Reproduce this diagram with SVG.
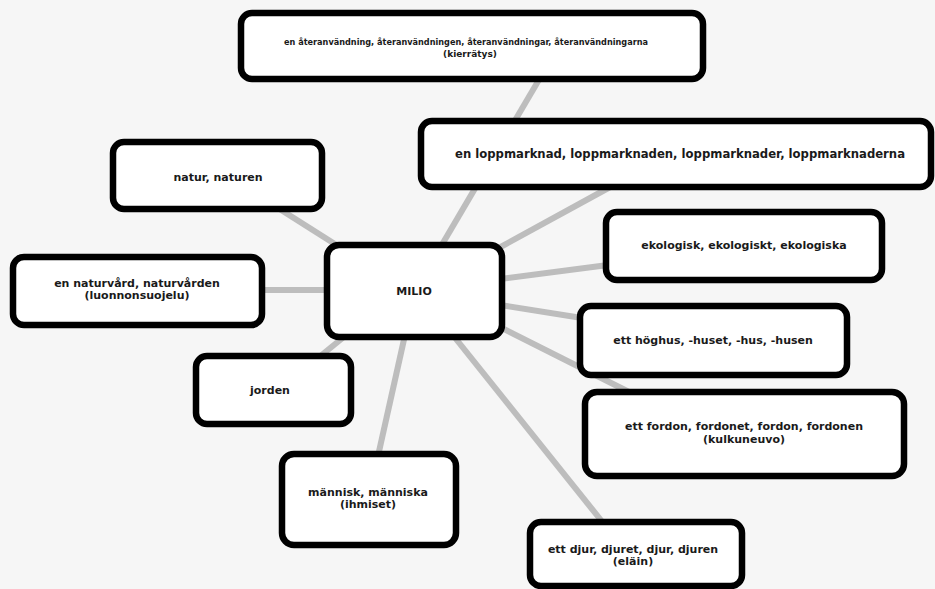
<svg xmlns="http://www.w3.org/2000/svg" width="935" height="589" viewBox="0 0 935 589">
<style>
.bg{fill:#f6f6f6}
.box{fill:#ffffff;stroke:#000;stroke-width:6.5}
.con line{stroke:#bdbdbd;stroke-width:6;stroke-linecap:butt}
text{font-family:"DejaVu Sans","Liberation Sans",Arial,sans-serif;font-weight:bold;font-size:11px;fill:#1a1a1a;text-anchor:middle}
</style>
<rect class="bg" x="0" y="0" width="935" height="589"/>
<g id="connectors" class="con">
<line x1="540" y1="78" x2="440" y2="248"/>
<line x1="612" y1="186" x2="495" y2="250"/>
<line x1="608" y1="265" x2="500" y2="279"/>
<line x1="500" y1="305" x2="582" y2="318"/>
<line x1="500" y1="327" x2="635" y2="395"/>
<line x1="452" y1="334" x2="604" y2="524"/>
<line x1="405" y1="335" x2="378" y2="456"/>
<line x1="345" y1="336" x2="318" y2="358"/>
<line x1="260" y1="290" x2="329" y2="290"/>
<line x1="278" y1="208" x2="338" y2="246"/>
</g>
<g id="n-top"><rect class="box" x="241" y="13" width="462" height="66" rx="11"/><text x="466" y="45" style="font-size:9px" textLength="364" lengthAdjust="spacingAndGlyphs">en återanvändning, återanvändningen, återanvändningar, återanvändningarna</text><text x="470" y="57" style="font-size:9px">(kierrätys)</text></g>
<g id="n-lopp"><rect class="box" x="421" y="121" width="510" height="66" rx="11"/><text x="680" y="158" style="font-size:12px" textLength="450" lengthAdjust="spacingAndGlyphs">en loppmarknad, loppmarknaden, loppmarknader, loppmarknaderna</text></g>
<g id="n-natur"><rect class="box" x="113" y="142" width="209" height="67" rx="11"/><text x="218" y="181">natur, naturen</text></g>
<g id="n-naturvard"><rect class="box" x="13" y="257" width="249" height="68" rx="11"/><text x="137" y="287">en naturvård, naturvården</text><text x="137" y="299">(luonnonsuojelu)</text></g>
<g id="n-milio"><rect class="box" x="327" y="245" width="175" height="92" rx="12"/><text x="414" y="295">MILIO</text></g>
<g id="n-eko"><rect class="box" x="606" y="212" width="276" height="68" rx="11"/><text x="744" y="249">ekologisk, ekologiskt, ekologiska</text></g>
<g id="n-hoghus"><rect class="box" x="580" y="306" width="267" height="69" rx="11"/><text x="713" y="344">ett höghus, -huset, -hus, -husen</text></g>
<g id="n-jorden"><rect class="box" x="196" y="356" width="155" height="68" rx="11"/><text x="270" y="394">jorden</text></g>
<g id="n-mann"><rect class="box" x="282" y="454" width="174" height="91" rx="12"/><text x="368" y="496">människ, människa</text><text x="368" y="508">(ihmiset)</text></g>
<g id="n-fordon"><rect class="box" x="585" y="392" width="319" height="84" rx="12"/><text x="744" y="430">ett fordon, fordonet, fordon, fordonen</text><text x="744" y="443">(kulkuneuvo)</text></g>
<g id="n-djur"><rect class="box" x="530" y="522" width="212" height="64" rx="11"/><text x="633" y="553">ett djur, djuret, djur, djuren</text><text x="633" y="565">(eläin)</text></g>
</svg>
